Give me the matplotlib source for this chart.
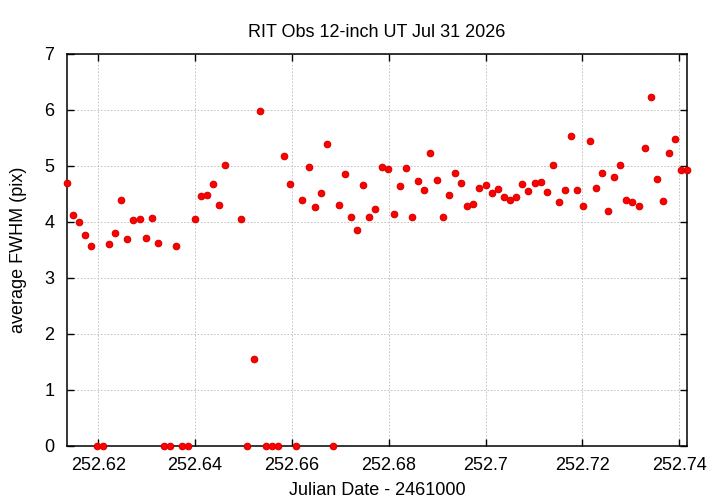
import matplotlib
matplotlib.use("Agg")
import matplotlib.pyplot as plt

jd = [252.61347, 252.61471, 252.61595, 252.61719, 252.61849, 252.61973, 252.62097,
      252.62227, 252.62351, 252.62475, 252.62599, 252.62723, 252.62855, 252.62979,
      252.63103, 252.63233, 252.63357, 252.63487, 252.63611, 252.63735, 252.63859,
      252.63991, 252.64115, 252.64239, 252.64369, 252.64493, 252.64617, 252.64953,
      252.65077, 252.65209, 252.65333, 252.65457, 252.65581, 252.65711, 252.65835,
      252.65959, 252.66089, 252.66213, 252.66345, 252.66469, 252.66593, 252.66717,
      252.66841, 252.66971, 252.67095, 252.67219, 252.67343, 252.67473, 252.67597,
      252.67721, 252.67853, 252.67977, 252.68107, 252.68231, 252.68355, 252.68485,
      252.68609, 252.68733, 252.68857, 252.68989, 252.69113, 252.69237, 252.69367,
      252.69491, 252.69615, 252.69745, 252.69873, 252.70001, 252.70125, 252.70255,
      252.70379, 252.70503, 252.70633, 252.70757, 252.70881, 252.71013, 252.71137,
      252.71261, 252.71391, 252.71515, 252.71639, 252.71769, 252.71893, 252.72017,
      252.72149, 252.72273, 252.72397, 252.72527, 252.72651, 252.72781, 252.72905,
      252.73029, 252.73161, 252.73285, 252.73409, 252.73539, 252.73663, 252.73787,
      252.73917, 252.74041, 252.74164]

fwhm = [4.69, 4.12, 4.00, 3.76, 3.58, 0, 0,
        3.61, 3.80, 4.40, 3.70, 4.04, 4.06, 3.72,
        4.07, 3.63, 0, 0, 3.58, 0, 0,
        4.06, 4.47, 4.49, 4.68, 4.31, 5.01, 4.05,
        0, 1.56, 5.98, 0, 0, 0, 5.17,
        4.68, 0, 4.39, 4.99, 4.26, 4.51, 5.39,
        0, 4.31, 4.86, 4.09, 3.85, 4.66, 4.09,
        4.24, 4.99, 4.94, 4.14, 4.64, 4.97, 4.09,
        4.73, 4.57, 5.24, 4.75, 4.09, 4.48, 4.88,
        4.70, 4.29, 4.33, 4.60, 4.66, 4.51, 4.59,
        4.45, 4.39, 4.44, 4.67, 4.56, 4.70, 4.71,
        4.53, 5.02, 4.35, 4.58, 5.53, 4.58, 4.28,
        5.45, 4.60, 4.88, 4.19, 4.80, 5.01, 4.39,
        4.35, 4.29, 5.33, 6.24, 4.76, 4.37, 5.23,
        5.48, 4.92, 4.92]

xticks = [252.62, 252.64, 252.66, 252.68, 252.70, 252.72, 252.74]
xtick_labels = ["252.62", "252.64", "252.66", "252.68", "252.7", "252.72", "252.74"]
yticks = [0, 1, 2, 3, 4, 5, 6, 7]

plt.rcParams['font.family'] = ['Liberation Sans', 'DejaVu Sans']

fig = plt.figure(figsize=(7.2, 5.04), dpi=100)
ax = fig.add_axes([66.7/720, 58/504, (687-66.7)/720, (446-54)/504])

ax.scatter(jd, fwhm, s=22, c='#ff0000', edgecolors='#dd0000', linewidths=0.8,
           zorder=3, clip_on=False)

ax.set_xlim(252.6135, 252.7416)
ax.set_ylim(0, 7)
ax.set_xticks(xticks)
ax.set_xticklabels(xtick_labels)
ax.set_yticks(yticks)

ax.grid(True, color='#bbbbbb', linestyle=(0, (2, 2)), linewidth=0.6)
ax.set_axisbelow(True)
for sp in ax.spines.values():
    sp.set_linewidth(1.1)
    sp.set_color('black')

ax.tick_params(direction='in', length=5, width=1, top=True, right=True,
               labelsize=13, colors='black')
ax.tick_params(axis='x', pad=8)
ax.tick_params(axis='y', pad=9)

ax.set_title("RIT Obs 12-inch UT Jul 31 2026", fontsize=13, pad=12)
ax.set_xlabel("Julian Date - 2461000", fontsize=13, labelpad=6)
ax.set_ylabel("average FWHM (pix)", fontsize=13, labelpad=12)

fig.savefig("out.png", dpi=100)
